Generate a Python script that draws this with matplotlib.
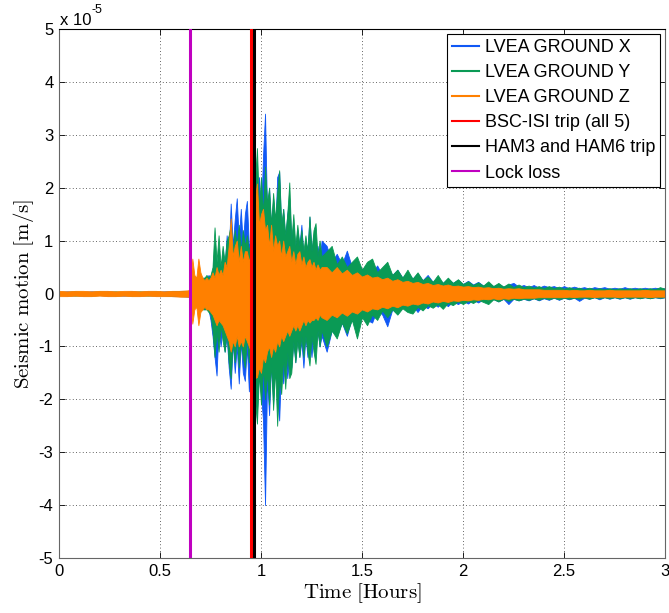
import numpy as np
import matplotlib
matplotlib.use('Agg')
import matplotlib.pyplot as plt
from matplotlib.lines import Line2D

plt.rcParams['font.family'] = ['Liberation Sans', 'DejaVu Sans']
plt.rcParams['mathtext.fontset'] = 'cm'

# sample times (hours): quiet part, main shaking, coda
t_pre = np.round(np.arange(0.0, 0.65, 0.04), 3)
t_main = np.round(np.arange(0.65, 1.305, 0.01), 3)
t_tail = np.round(np.arange(1.325, 3.001, 0.025), 3)

# peak envelopes, units of 1e-5 m/s
x_hi = [0.03, 0.04, 0.03, 0.03, 0.04, 0.03, 0.04, 0.03, 0.03, 0.04, 0.03, 0.04, 0.03, 0.04, 0.04, 0.05, 0.05,
        0.05, 0.15, 0.2, 0.15, 0.2, 0.2, 0.25, 0.3, 0.25, 0.35,
        0.3, 0.4, 0.9, 0.5, 0.7, 0.4, 0.8, 0.5, 1.1, 0.7,
        1.7, 0.9, 1.4, 1.8, 1.0, 1.6, 0.9, 1.5, 1.75, 0.9,
        1.0, 1.2, 2.5, 1.6, 2.2, 1.4, 2.6, 3.4, 1.5, 2.0,
        1.2, 1.8, 1.1, 2.2, 2.3, 1.2, 1.6, 1.0, 1.5, 1.8,
        1.0, 1.3, 0.8, 1.2, 0.9, 1.3, 0.7, 1.0, 0.8, 1.45,
        0.8, 1.1, 0.7, 0.9, 0.6, 1.0,
        0.9, 0.6, 0.75, 0.55, 0.81, 0.5, 0.6, 0.45, 0.55, 0.4,
        0.53, 0.35, 0.5, 0.35, 0.45, 0.3, 0.4, 0.28, 0.38, 0.25,
        0.35, 0.22, 0.3, 0.2, 0.28, 0.2, 0.26, 0.18, 0.24, 0.17,
        0.22, 0.15, 0.2, 0.14, 0.18, 0.13, 0.17, 0.2, 0.13, 0.16,
        0.12, 0.16, 0.11, 0.15, 0.12, 0.14, 0.1, 0.14, 0.1, 0.13,
        0.1, 0.12, 0.09, 0.12, 0.1, 0.12, 0.09, 0.11, 0.09, 0.12,
        0.09, 0.11, 0.09, 0.11, 0.09, 0.11, 0.09, 0.1]
x_lo = [-0.03, -0.04, -0.03, -0.04, -0.03, -0.03, -0.04, -0.03, -0.04, -0.03, -0.04, -0.03, -0.04, -0.03, -0.05, -0.05, -0.06,
        -0.05, -0.1, -0.2, -0.15, -0.2, -0.2, -0.25, -0.3, -0.25, -0.3,
        -0.5, -0.8, -1.2, -1.55, -0.6, -1.0, -0.6, -1.1, -0.8, -1.4,
        -1.8, -0.9, -1.5, -1.0, -1.7, -0.9, -1.5, -1.65, -1.0, -1.85,
        -1.0, -1.4, -1.8, -2.2, -1.5, -1.9, -2.4, -4.0, -1.6, -2.3,
        -1.3, -2.1, -1.2, -1.9, -2.4, -1.3, -1.7, -1.1, -1.6, -1.2,
        -1.4, -0.9, -1.3, -0.8, -1.2, -0.9, -1.4, -0.8, -1.2, -0.8,
        -1.2, -0.7, -1.0, -0.7, -1.0, -0.8,
        -1.1, -0.7, -0.8, -0.55, -0.8, -0.45, -0.55, -0.35, -0.5, -0.55,
        -0.3, -0.4, -0.62, -0.3, -0.38, -0.25, -0.33, -0.22, -0.35, -0.22,
        -0.28, -0.18, -0.25, -0.16, -0.24, -0.15, -0.2, -0.14, -0.19, -0.12,
        -0.17, -0.11, -0.16, -0.1, -0.15, -0.1, -0.2, -0.1, -0.13, -0.1,
        -0.13, -0.09, -0.13, -0.09, -0.12, -0.08, -0.12, -0.08, -0.11, -0.08,
        -0.14, -0.08, -0.1, -0.07, -0.11, -0.07, -0.1, -0.07, -0.1, -0.07,
        -0.1, -0.07, -0.09, -0.07, -0.09, -0.07, -0.09, -0.07]

y_hi = [0.03, 0.03, 0.04, 0.03, 0.03, 0.04, 0.03, 0.04, 0.03, 0.03, 0.04, 0.03, 0.04, 0.03, 0.04, 0.04, 0.05,
        0.05, 0.1, 0.15, 0.2, 0.2, 0.25, 0.3, 0.3, 0.35, 0.3,
        0.35, 0.5, 1.25, 0.6, 1.1, 0.5, 0.9, 0.6, 1.0, 1.1,
        1.3, 0.8, 1.2, 0.9, 1.3, 0.8, 1.2, 0.9, 1.1, 0.8,
        1.0, 1.5, 2.1, 2.75, 1.6, 2.2, 1.5, 2.4, 1.7, 2.0,
        1.3, 1.9, 1.4, 1.9, 2.33, 1.3, 1.6, 1.1, 1.5, 2.1,
        1.0, 1.5, 0.9, 1.3, 0.9, 1.2, 0.8, 1.1, 0.8, 1.46,
        0.8, 1.2, 1.33, 0.7, 1.0, 0.7,
        0.8, 0.9, 0.55, 0.7, 0.5, 0.6, 0.7, 0.45, 0.6, 0.66,
        0.4, 0.5, 0.6, 0.35, 0.45, 0.3, 0.45, 0.28, 0.4, 0.25,
        0.32, 0.22, 0.35, 0.2, 0.3, 0.2, 0.27, 0.18, 0.23, 0.16,
        0.21, 0.15, 0.23, 0.14, 0.2, 0.13, 0.19, 0.12, 0.17, 0.12,
        0.15, 0.11, 0.14, 0.1, 0.14, 0.1, 0.13, 0.09, 0.12, 0.09,
        0.11, 0.08, 0.11, 0.08, 0.1, 0.08, 0.1, 0.08, 0.1, 0.08,
        0.1, 0.08, 0.1, 0.08, 0.1, 0.08, 0.12, 0.09]
y_lo = [-0.03, -0.03, -0.04, -0.03, -0.04, -0.03, -0.03, -0.04, -0.03, -0.04, -0.03, -0.04, -0.03, -0.04, -0.04, -0.05, -0.05,
        -0.05, -0.1, -0.15, -0.2, -0.2, -0.25, -0.3, -0.3, -0.3, -0.35,
        -0.4, -0.7, -1.2, -0.7, -1.1, -0.6, -0.9, -1.1, -0.7, -1.3,
        -1.6, -0.9, -1.3, -0.8, -1.4, -0.9, -1.2, -1.4, -0.8, -1.3,
        -1.0, -1.5, -2.0, -2.46, -1.5, -2.1, -1.4, -2.0, -1.5, -2.1,
        -1.3, -2.2, -1.4, -2.5, -1.6, -1.9, -1.2, -1.8, -1.1, -1.6,
        -1.5, -0.9, -1.3, -0.9, -1.2, -0.8, -1.2, -0.8, -1.1, -1.36,
        -0.8, -1.1, -1.33, -0.7, -1.0, -0.7,
        -1.0, -0.7, -0.85, -0.55, -0.75, -0.5, -0.85, -0.45, -0.6, -0.4,
        -0.5, -0.32, -0.45, -0.3, -0.4, -0.28, -0.35, -0.38, -0.25, -0.32,
        -0.22, -0.27, -0.2, -0.29, -0.18, -0.22, -0.15, -0.2, -0.14, -0.18,
        -0.12, -0.16, -0.2, -0.11, -0.15, -0.1, -0.14, -0.1, -0.13, -0.1,
        -0.12, -0.09, -0.12, -0.08, -0.11, -0.08, -0.11, -0.08, -0.1, -0.08,
        -0.1, -0.07, -0.1, -0.07, -0.09, -0.07, -0.09, -0.07, -0.09, -0.07,
        -0.09, -0.07, -0.09, -0.07, -0.09, -0.07, -0.08, -0.07]

z_hi = [0.05, 0.04, 0.05, 0.05, 0.04, 0.05, 0.05, 0.04, 0.05, 0.05, 0.04, 0.05, 0.05, 0.04, 0.05, 0.05, 0.06,
        0.1, 0.66, 0.35, 0.3, 0.66, 0.4, 0.3, 0.25, 0.3, 0.25,
        0.3, 0.4, 0.3, 0.5, 0.35, 0.45, 0.35, 0.6, 0.5, 0.9,
        1.42, 0.7, 0.9, 1.0, 0.6, 0.9, 0.6, 0.8, 0.8, 0.6,
        0.8, 1.2, 1.8, 2.08, 1.3, 1.5, 1.6, 1.2, 1.3, 0.9,
        1.3, 0.8, 1.1, 0.9, 1.0, 0.7, 1.0, 0.7, 0.8, 0.9,
        0.6, 0.8, 0.55, 0.75, 0.8, 0.55, 0.7, 0.5, 0.6, 0.65,
        0.5, 0.6, 0.45, 0.55, 0.45, 0.5,
        0.5, 0.4, 0.5, 0.38, 0.45, 0.35, 0.4, 0.32, 0.36, 0.3,
        0.32, 0.27, 0.3, 0.24, 0.27, 0.22, 0.24, 0.2, 0.22, 0.18,
        0.2, 0.16, 0.18, 0.15, 0.17, 0.14, 0.15, 0.13, 0.14, 0.12,
        0.13, 0.11, 0.12, 0.1, 0.11, 0.09, 0.1, 0.09, 0.1, 0.08,
        0.08, 0.08, 0.08, 0.07, 0.07, 0.07, 0.07, 0.07, 0.06, 0.07,
        0.06, 0.06, 0.07, 0.06, 0.06, 0.06, 0.07, 0.06, 0.06, 0.06,
        0.06, 0.06, 0.06, 0.07, 0.06, 0.06, 0.06, 0.06]
z_lo = [-0.05, -0.05, -0.04, -0.05, -0.05, -0.04, -0.05, -0.05, -0.04, -0.05, -0.05, -0.04, -0.05, -0.05, -0.05, -0.06, -0.06,
        -0.1, -0.57, -0.3, -0.25, -0.6, -0.35, -0.3, -0.25, -0.3, -0.3,
        -0.35, -0.4, -0.5, -0.6, -0.5, -0.55, -0.6, -0.7, -0.8, -0.9,
        -1.1, -0.9, -1.0, -0.8, -1.0, -0.9, -1.0, -0.8, -0.9, -1.0,
        -1.1, -1.3, -1.6, -1.58, -1.4, -1.5, -1.2, -1.3, -1.1, -1.0,
        -1.2, -1.0, -1.1, -0.9, -1.0, -0.8, -0.9, -0.8, -0.7, -0.8,
        -0.7, -0.6, -0.7, -0.6, -0.7, -0.6, -0.5, -0.6, -0.5, -0.55,
        -0.5, -0.5, -0.45, -0.5, -0.4, -0.45,
        -0.5, -0.4, -0.45, -0.36, -0.42, -0.34, -0.38, -0.3, -0.34, -0.28,
        -0.3, -0.25, -0.28, -0.23, -0.26, -0.21, -0.23, -0.19, -0.21, -0.17,
        -0.19, -0.15, -0.17, -0.14, -0.16, -0.13, -0.14, -0.12, -0.13, -0.11,
        -0.12, -0.1, -0.11, -0.09, -0.11, -0.09, -0.1, -0.08, -0.09, -0.08,
        -0.08, -0.08, -0.07, -0.07, -0.07, -0.07, -0.07, -0.07, -0.06, -0.07,
        -0.06, -0.06, -0.06, -0.07, -0.06, -0.06, -0.06, -0.06, -0.07, -0.06,
        -0.06, -0.06, -0.06, -0.06, -0.07, -0.06, -0.06, -0.06]

# event times (hours)
t_lockloss = 0.648
t_bsc = 0.950
t_ham = 0.966

channels = ['LVEA GROUND X', 'LVEA GROUND Y', 'LVEA GROUND Z']
colors = ['#1058f5', '#0a9a55', '#ff8000']

t = np.concatenate([t_pre, t_main, t_tail])

fig = plt.figure(figsize=(6.69, 6.13), dpi=100)
ax = fig.add_axes([59 / 669, 55 / 613, 606 / 669, 529 / 613])

# each trace drawn as its filled peak envelope
for hi, lo, c in zip([x_hi, y_hi, z_hi], [x_lo, y_lo, z_lo], colors):
    ax.fill_between(t, lo, hi, facecolor=c, edgecolor=c, lw=0.6, zorder=2)

ax.axvline(t_bsc, color='#ff0000', lw=2.2, zorder=3)
ax.axvline(t_ham, color='black', lw=2.2, zorder=3)
ax.axvline(t_lockloss, color='#c000c0', lw=2.2, zorder=3)

ax.set_xlim(0, 3)
ax.set_ylim(-5, 5)
ax.set_xticks([0, 0.5, 1, 1.5, 2, 2.5, 3])
ax.set_xticklabels(['0', '0.5', '1', '1.5', '2', '2.5', '3'])
ax.set_yticks(range(-5, 6))
ax.set_yticklabels([str(v) for v in range(-5, 6)])
ax.tick_params(direction='in', top=True, right=True, length=4, width=0.6,
               labelsize=12, pad=4)
ax.grid(True, color='#333333', linestyle=(0, (1, 3)), linewidth=0.6)
for side in ['left', 'bottom', 'right']:
    ax.spines[side].set_color('#666666')
ax.spines['top'].set_color('black')

ax.set_xlabel(r'$\mathrm{Time\ [Hours]}$', fontsize=15, labelpad=2)
ax.set_ylabel(r'$\mathrm{Seismic\ motion\ [m/s]}$', fontsize=15, labelpad=2)

fig.text(60 / 669, 1 - 25 / 613, 'x 10', fontsize=12, ha='left', va='baseline')
fig.text(92 / 669, 1 - 13 / 613, '-5', fontsize=9, ha='left', va='baseline')

handles = [Line2D([], [], color=c, lw=1.5) for c in colors]
handles += [Line2D([], [], color='#ff0000', lw=1.5),
            Line2D([], [], color='black', lw=1.5),
            Line2D([], [], color='#c000c0', lw=1.5)]
labels = channels + ['BSC-ISI trip (all 5)', 'HAM3 and HAM6 trip', 'Lock loss']
leg = ax.legend(handles, labels, loc='upper right', fontsize=13, frameon=True,
                fancybox=False, framealpha=1, edgecolor='black',
                borderaxespad=0.25, borderpad=0.3, labelspacing=0.45,
                handlelength=1.5, handletextpad=0.3)
leg.get_frame().set_linewidth(0.8)
leg.set_zorder(5)

fig.savefig('out.png', dpi=100)
